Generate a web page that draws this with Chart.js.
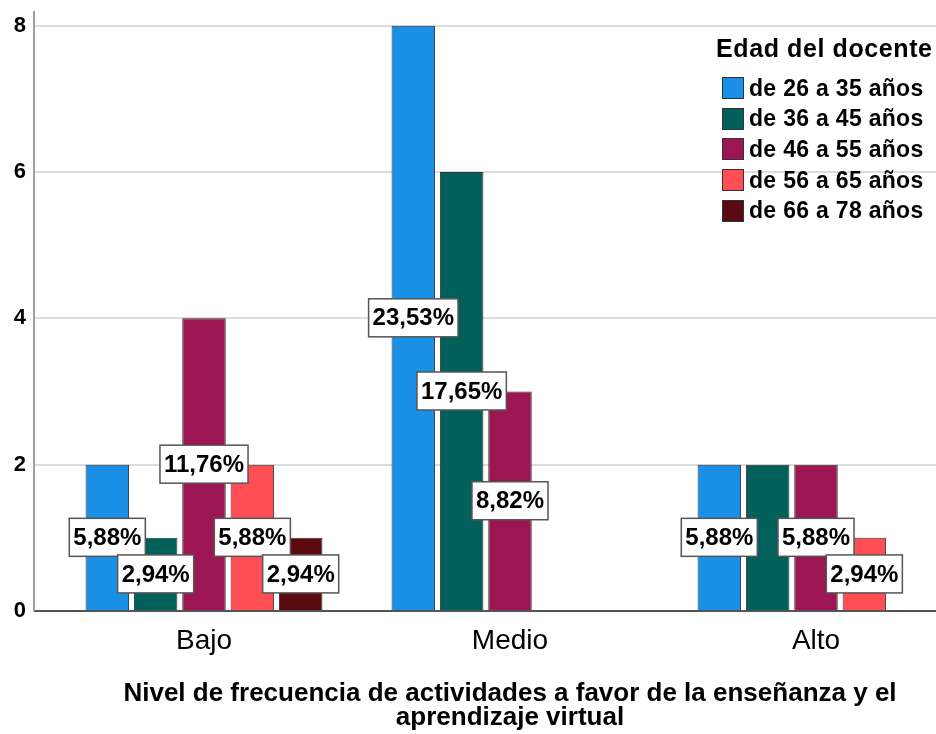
<!DOCTYPE html>
<html>
<head>
<meta charset="utf-8">
<script src="https://cdn.jsdelivr.net/npm/chart.js@4.4.0/dist/chart.umd.min.js"></script>
<style>
  html, body { margin: 0; padding: 0; overflow: hidden; background: #fff; }
  #wrap { position: relative; width: 936px; height: 734px; overflow: hidden; }
  #legend {
    position: absolute; left: 716px; top: 33px;
    font-family: "Liberation Sans", Arial, sans-serif; color: #000;
  }
  #legend .ltitle { font-weight: bold; font-size: 25px; letter-spacing: 0.6px; line-height: 30px; margin-bottom: 10px; }
  #legend .row { display: flex; align-items: center; height: 30.6px; margin-left: 6px; }
  #legend .sw { width: 20px; height: 20px; border: 1.5px solid #333; margin-right: 5px; }
  #legend .txt { font-weight: bold; font-size: 23px; letter-spacing: 0.3px; }
</style>
</head>
<body>
<div id="wrap">
  <canvas id="chart" width="969" height="734"></canvas>
  <div id="legend"></div>
</div>
<script>
// categories (x axis)
const categories = ["Bajo", "Medio", "Alto"];

// age groups (legend) and their counts per category
const seriesNames = [
  "de 26 a 35 años",
  "de 36 a 45 años",
  "de 46 a 55 años",
  "de 56 a 65 años",
  "de 66 a 78 años"
];
const age26to35 = [2, 8, 2];
const age36to45 = [1, 6, 2];
const age46to55 = [4, 3, 2];
const age56to65 = [2, 0, 1];
const age66to78 = [1, 0, 0];

const yTicks = [0, 2, 4, 6, 8];

const colors = ["#1a8fe6", "#02605a", "#9b1652", "#ff4f55", "#5b0a0f"];
const seriesValues = [age26to35, age36to45, age46to55, age56to65, age66to78];

const total = seriesValues.flat().reduce((a, b) => a + b, 0);

const FONT = '"Liberation Sans", Arial, sans-serif';
const AXIS_GAP = 17;

// legend
const legendEl = document.getElementById("legend");
legendEl.innerHTML = '<div class="ltitle">Edad del docente</div>' +
  seriesNames.map((n, i) =>
    '<div class="row"><div class="sw" style="background:' + colors[i] + '"></div>' +
    '<span class="txt">' + n + '</span></div>').join("");

// vertical axis line sits a bit left of the plotting area
const axisLine = {
  id: "axisLine",
  beforeDatasetsDraw(chart) {
    const { ctx, chartArea } = chart;
    const x = chartArea.left - AXIS_GAP;
    ctx.save();
    ctx.strokeStyle = "#a0a0a0";
    ctx.lineWidth = 2;
    ctx.beginPath();
    ctx.moveTo(x, chartArea.top);
    ctx.lineTo(x, chartArea.bottom);
    ctx.stroke();
    ctx.restore();
  }
};

// percentage boxes in the middle of each bar, hidden when they collide
const percentLabels = {
  id: "percentLabels",
  afterDatasetsDraw(chart) {
    const ctx = chart.ctx;
    const placed = [];
    ctx.save();
    ctx.font = "bold 24px " + FONT;
    ctx.textAlign = "center";
    ctx.textBaseline = "middle";
    chart.data.datasets.forEach((ds, di) => {
      const meta = chart.getDatasetMeta(di);
      meta.data.forEach((bar, i) => {
        const v = ds.data[i];
        if (!v) return;
        const text = (v / total * 100).toFixed(2).replace(".", ",") + "%";
        const w = ctx.measureText(text).width + 8;
        const h = 38;
        const cx = bar.x;
        const cy = (bar.y + bar.base) / 2;
        const box = { x1: cx - w / 2, x2: cx + w / 2, y1: cy - h / 2, y2: cy + h / 2 };
        const tol = 4;
        const hit = placed.some(b =>
          box.x1 < b.x2 - tol && box.x2 > b.x1 + tol && box.y1 < b.y2 - tol && box.y2 > b.y1 + tol);
        if (hit) return;
        placed.push(box);
        ctx.fillStyle = "#fff";
        ctx.fillRect(box.x1, box.y1, w, h);
        ctx.strokeStyle = "#555";
        ctx.lineWidth = 1.5;
        ctx.strokeRect(box.x1, box.y1, w, h);
        ctx.fillStyle = "#000";
        ctx.fillText(text, cx, cy + 1);
      });
    });
    ctx.restore();
  }
};

new Chart(document.getElementById("chart"), {
  type: "bar",
  data: {
    labels: categories,
    datasets: seriesValues.map((vals, i) => ({
      label: seriesNames[i],
      data: vals,
      backgroundColor: colors[i],
      borderColor: "#333",
      borderWidth: 1,
      categoryPercentage: 0.79,
      barPercentage: 0.9
    }))
  },
  options: {
    responsive: false,
    animation: false,
    devicePixelRatio: 1,
    layout: { padding: { top: 11, right: 0, bottom: 0, left: 0 } },
    plugins: {
      legend: { display: false },
      tooltip: { enabled: false }
    },
    scales: {
      x: {
        grid: { display: false, drawTicks: false },
        border: { display: true, color: "#555", width: 1.5 },
        ticks: {
          color: "#000",
          font: { family: FONT, size: 28 },
          padding: 13
        },
        title: {
          display: true,
          text: [
            "Nivel de frecuencia de actividades a favor de la enseñanza y el",
            "aprendizaje virtual"
          ],
          color: "#000",
          font: { family: FONT, size: 26, weight: "bold", lineHeight: 0.92 },
          padding: { top: 0, bottom: 4 }
        },
        afterFit(scale) {
          scale.height = 123;
          scale.paddingLeft = 0;
          scale.paddingRight = 0;
        }
      },
      y: {
        min: 0,
        max: 8.2,
        afterBuildTicks(scale) {
          scale.ticks = yTicks.map(v => ({ value: v }));
        },
        ticks: {
          stepSize: 2,
          includeBounds: false,
          color: "#000",
          font: { family: FONT, size: 22, weight: "bold" },
          padding: 8
        },
        grid: {
          color: c => (c.tick && c.tick.value === 0 ? "#555" : "#dcdcdc"),
          lineWidth: 2,
          drawTicks: true,
          tickLength: AXIS_GAP
        },
        border: { display: false },
        afterFit(scale) {
          scale.width = 51;
          scale.paddingTop = 0;
          scale.paddingBottom = 0;
        }
      }
    }
  },
  plugins: [axisLine, percentLabels]
});
</script>
</body>
</html>
